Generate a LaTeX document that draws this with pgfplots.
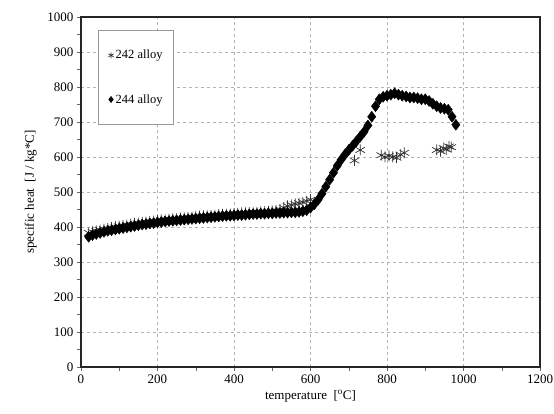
\documentclass[border=0pt]{standalone}
\usepackage{pgfplots}
\pgfplotsset{compat=1.18}
\usepackage{fontspec}
\setmainfont{Liberation Serif}

\begin{document}
\begin{tikzpicture}
\begin{axis}[
    scale only axis,
    width=459pt,
    height=350pt,
    xmin=0, xmax=1200,
    ymin=0, ymax=1000,
    xtick={0,200,...,1200},
    ytick={0,100,...,1000},
    minor x tick num=1,
    minor y tick num=1,
    tick align=outside,
    tick pos=left,
    major tick length=4pt,
    minor tick length=4pt,
    every tick/.style={black!60, line width=0.5pt},
    grid=major,
    grid style={dashed, gray!60, line width=0.5pt},
    axis line style={black!85, line width=1.4pt},
    xlabel={temperature\ \ [\textsuperscript{o}C]},
    ylabel={specific heat\ \ [J / kg*C]},
    xlabel style={font=\fontsize{13}{15}\selectfont, yshift=0pt},
    ylabel style={font=\fontsize{13}{15}\selectfont, yshift=4pt},
    tick label style={font=\fontsize{13}{15}\selectfont},
    /pgf/number format/assume math mode=true,
    /pgf/number format/1000 sep={},
    legend style={at={(0.037,0.963)}, anchor=north west, draw=gray!80,
        line width=0.6pt, font=\fontsize{12.5}{14}\selectfont,
        row sep=30pt, inner xsep=9pt, inner ysep=18pt},
    legend cell align=left,
    legend image code/.code={\draw[#1, mark size=3pt] (0pt,0pt) -- plot coordinates {(0.12cm,0cm)};},
]
\addplot[only marks, mark=asterisk, mark size=5.5pt, black!80, line width=0.7pt]
coordinates {
(20,383) (30,386) (40,389) (50,392) (60,394) (70,396) (80,398) (90,400)
(100,402) (110,404) (120,406) (130,408) (140,410) (150,411) (160,413)
(170,414) (180,416) (190,417) (200,418) (210,420) (220,421) (230,422)
(240,423) (250,424) (260,425) (270,426) (280,427) (290,428) (300,430)
(310,431) (320,432) (330,432) (340,433) (350,434) (360,435) (370,436)
(380,437) (390,437) (400,438) (410,439) (420,440) (430,440) (440,441)
(450,442) (460,442) (470,443) (480,444) (490,444) (500,445) (510,447)
(520,450) (530,455) (540,460) (550,463) (560,466) (570,468) (580,471)
(590,474) (600,478)
(715,590) (730,620)
(785,605) (795,600) (805,603) (815,600) (825,598) (835,607) (845,612)
(930,620) (940,617) (948,625) (955,622) (962,630) (968,628)
};
\addlegendentry{242 alloy}
\addplot[only marks, mark=diamond*, mark size=5.5pt, black]
coordinates {
(20,372) (30,377) (40,380) (50,383) (60,386) (70,389) (80,391) (90,393)
(100,395) (110,397) (120,399) (130,401) (140,403) (150,405) (160,407)
(170,408) (180,410) (190,411) (200,413) (210,414) (220,416) (230,417)
(240,418) (250,419) (260,420) (270,421) (280,422) (290,423) (300,424)
(310,425) (320,426) (330,427) (340,428) (350,429) (360,430) (370,431)
(380,432) (390,432) (400,433) (410,434) (420,434) (430,435) (440,436)
(450,437) (460,437) (470,438) (480,438) (490,439) (500,439) (510,440)
(520,440) (530,441) (540,441) (550,442) (560,442) (570,443) (580,445)
(590,448) (600,455) (610,465) (620,478) (630,495) (640,515) (650,535)
(660,555) (670,575) (680,592) (690,607) (700,620) (710,632) (720,645)
(730,658) (740,672) (750,690) (760,715) (770,745) (780,765) (790,772)
(800,775) (810,778) (820,782) (830,778) (840,775) (850,773) (860,770)
(870,770) (880,768) (890,765) (900,765) (910,760) (920,752) (930,745)
(940,740) (950,738) (960,735) (970,715) (980,692)
};
\addlegendentry{244 alloy}
\end{axis}
\pgfresetboundingbox
\path (current axis.south west) ++(-81pt,-47pt) coordinate (bl);
\path (current axis.north east) ++(14pt,17pt) coordinate (tr);
\path[use as bounding box] (bl) rectangle (tr);
\end{tikzpicture}
\end{document}
